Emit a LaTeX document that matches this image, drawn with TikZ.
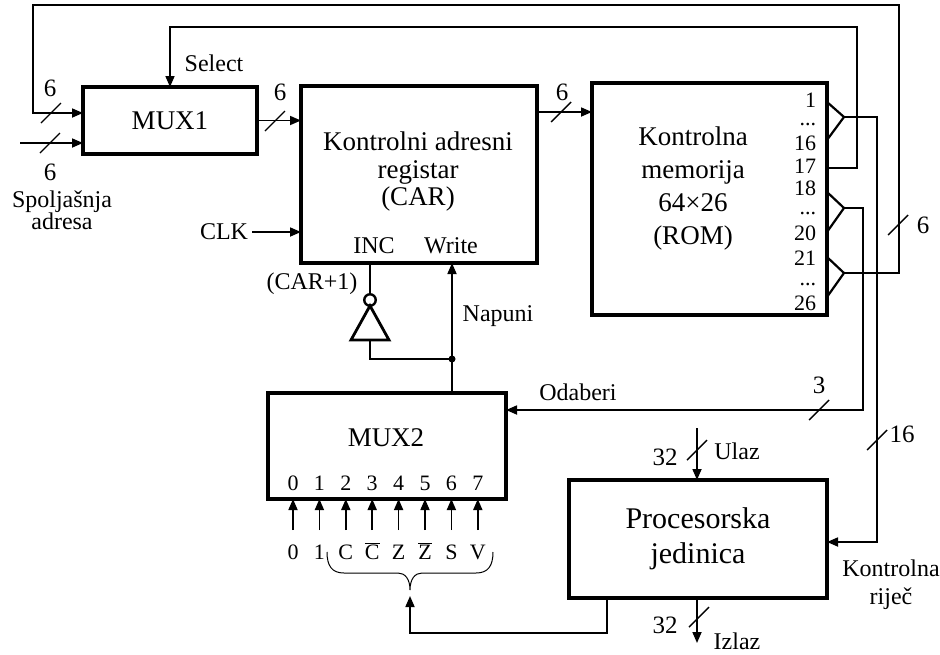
\documentclass[tikz,border=0pt]{standalone}
\usepackage{fontspec}
\setmainfont{Liberation Serif}
\usetikzlibrary{arrows.meta}
\begin{document}
\begin{tikzpicture}[x=1pt,y=-1pt,line width=1.7pt,>={Triangle[length=11pt,width=9pt]},
	font=\fontsize{24}{26}\selectfont,
	blok/.style={draw,line width=3.3pt,inner sep=0pt,outer sep=0pt},
	veliki/.style={font=\fontsize{27}{27.5}\selectfont,align=center},
	mali/.style={font=\fontsize{22}{24}\selectfont,inner sep=0.5pt},
	broj/.style={font=\fontsize{25}{26}\selectfont,inner sep=1pt}]
	\useasboundingbox (0,0) rectangle (940,654);
	\def\crta(#1){\draw[line width=1.4pt] (#1)+(-10,10) -- +(10,-10);}
	% blokovi
	\node[blok,veliki,minimum width=174pt,minimum height=67pt] (mux1) at (170,120.5) {MUX1};
	\node[blok,minimum width=236pt,minimum height=177pt] (car) at (419,174.5) {};
	\node[blok,minimum width=235pt,minimum height=232pt] (rom) at (709.5,199) {};
	\node[blok,minimum width=238pt,minimum height=106pt] (mux2) at (387,446) {};
	\node[blok,font=\fontsize{30}{35}\selectfont,align=center,minimum width=258pt,minimum height=118pt] (pj) at (698,539) {Procesorska\\jedinica};
	\node[veliki] (cartxt) at (418,172) {Kontrolni adresni\\registar\\(CAR)};
	\node[veliki,font=\fontsize{27}{33}\selectfont] (romtxt) at (693,189) {Kontrolna\\memorija\\64×26\\(ROM)};
	\node[veliki] (mux2txt) at (386,438) {MUX2};
	% izlazi ROM-a
	\foreach \t/\y in {1/100,16/143,17/166,18/188,20/233,21/258,26/303}
		\node[mali,anchor=east,inner sep=0pt] (iz\t) at (817,\y) {\t};
	\foreach \y in {125,214,285}
		\node[mali,anchor=east,inner sep=0pt] (tr\y) at (817,\y) {...};
	\coordinate (r1) at (844,117);
	\coordinate (r2) at (844,208);
	\coordinate (r3) at (844,273);
	\draw[line width=2.2pt] (rom.east|-0,102) -- (r1) -- (rom.east|-0,140);
	\draw[line width=2.2pt] (rom.east|-0,192) -- (r2) -- (rom.east|-0,232);
	\draw[line width=2.2pt] (rom.east|-0,257) -- (r3) -- (rom.east|-0,297);
	% veze
	\draw[->] (r3) -| (899,5) -| (33,113) -- (mux1.west|-0,113);
	\draw[->] (rom.east|-0,168) -| (857,27) -| (mux1.north);
	\draw[->] (r1) -| (877,542) -- (pj.east|-0,542);
	\draw[->] (r2) -| (863,410) -- (mux2.east|-0,410);
	\coordinate (sa) at (20,143);
	\draw[->] (sa) -- (mux1.west|-sa);
	\draw[->] (mux1.east) -- (car.west|-mux1.east);
	\draw[->] (car.east|-0,112) -- (rom.west|-0,112);
	\node (clk) at (224,232) {CLK};
	\draw[->] (clk) -- (car.west|-clk);
	\crta(51,113) \crta(50,143) \crta(275,121) \crta(561,112)
	\crta(898,225) \crta(877,440) \crta(819,410) \crta(697,450) \crta(699,617)
	\node[broj] (b1) at (50,88) {6};
	\node[broj] (b2) at (50,172) {6};
	\node[broj] (b3) at (280,92) {6};
	\node[broj] (b4) at (562,92) {6};
	\node[broj] (b5) at (923,225) {6};
	\node[broj] (b6) at (819,385) {3};
	\node[broj] (b7) at (902,434) {16};
	\node[broj] (b8) at (665,457) {32};
	\node[broj] (b9) at (665,625) {32};
	% oznake
	\node (sel) at (214,63) {Select};
	\node (oda) at (578,392) {Odaberi};
	\node[align=center,font=\fontsize{24}{22}\selectfont] (spa) at (62,210) {Spoljašnja\\adresa};
	\node[align=center,font=\fontsize{24}{28}\selectfont] (kr) at (891,585) {Kontrolna\\riječ};
	\node (inc) at (374,246) {INC};
	\node (wr) at (451,246) {Write};
	\node (carp) at (312,284) {(CAR+1)};
	\node (nap) at (498,316) {Napuni};
	\node (ul) at (737,451) {Ulaz};
	\node[inner sep=0pt] (izl) at (737,641) {Izlaz};
	% INC i Write
	\node[circle,draw,line width=2.4pt,minimum size=11.5pt,inner sep=0pt,outer sep=0pt] (neg) at (370,300) {};
	\draw (neg.north) -- (car.south-|neg.north);
	\draw[line width=2.8pt] (neg.south) -- (351,340) -- (389,340) -- cycle;
	\coordinate (cv) at (452,359);
	\draw (370,340) |- (cv);
	\fill (cv) circle (3.5pt);
	\draw[->] (mux2.north-|cv) -- (car.south-|cv);
	% ulaz i izlaz
	\coordinate (ulz) at (697,428);
	\coordinate (izz) at (697,643);
	\draw[->] (ulz) -- (pj.north-|ulz);
	\draw[->] (pj.south-|izz) -- (izz);
	% ulazi MUX2
	\foreach \s [count=\i from 0] in {0,1,C,$\overline{\hbox{C}}$,Z,$\overline{\hbox{Z}}$,S,V}{
		\node[mali,anchor=base] (br\i) at (293+26.4*\i,490) {\i};
		\node[mali,anchor=base] (us\i) at (293+26.4*\i,559) {\s};
		\draw[->] (br\i|-0,530) -- (br\i|-mux2.south);
	}
	% viticasta zagrada
	\coordinate (vrh) at (410,590);
	\draw[line width=1pt] (327,552) .. controls (327,566) and (332,573) .. (344,573) -- (398,573)
		.. controls (405,573) and (410,579) .. (vrh) .. controls (410,579) and (415,573) .. (422,573)
		-- (476,573) .. controls (488,573) and (493,566) .. (493,552);
	\draw[->] (pj.south-|607,0) |- (vrh|-0,633) -- (410,596);
\end{tikzpicture}
\end{document}
